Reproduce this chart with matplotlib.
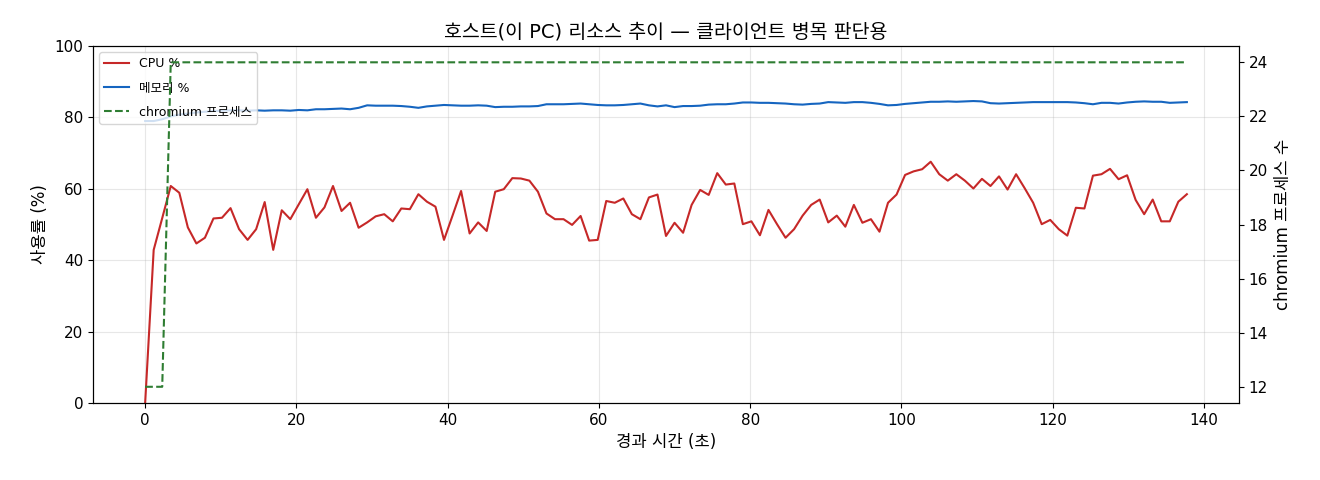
import matplotlib
matplotlib.use("Agg")
import matplotlib.pyplot as plt
import numpy as np

# Latin text in DejaVu (wide, like the original), Hangul falls back to Noto CJK
plt.rcParams['font.family'] = ['DejaVu Sans', 'Noto Sans CJK KR']
plt.rcParams['axes.unicode_minus'] = False

# sampling interval of the monitor (seconds)
sample_interval = 1.129

cpu_pct = [
    0.0, 42.9, 51.8, 60.8, 58.9, 49.2, 44.7, 46.3, 51.7, 51.9,
    54.6, 48.7, 45.7, 48.7, 56.3, 42.9, 54.0, 51.5, 55.7, 59.9,
    51.9, 54.8, 60.8, 53.8, 56.1, 49.1, 50.6, 52.3, 52.9, 50.9,
    54.5, 54.3, 58.5, 56.4, 55.0, 45.7, 52.5, 59.4, 47.5, 50.6,
    48.2, 59.2, 59.9, 63.0, 62.9, 62.3, 59.2, 53.1, 51.5, 51.5,
    49.9, 52.4, 45.5, 45.7, 56.6, 56.1, 57.3, 52.9, 51.5, 57.6,
    58.4, 46.8, 50.5, 47.7, 55.5, 59.7, 58.3, 64.4, 61.2, 61.5,
    50.1, 50.9, 47.0, 54.1, 50.1, 46.3, 48.7, 52.5, 55.5, 57.0,
    50.6, 52.5, 49.4, 55.5, 50.5, 51.5, 48.0, 56.1, 58.4, 63.9,
    64.9, 65.5, 67.6, 64.1, 62.3, 64.1, 62.3, 60.1, 62.8, 60.8,
    63.5, 59.8, 64.1, 60.2, 56.1, 50.1, 51.3, 48.7, 46.9, 54.7,
    54.5, 63.7, 64.1, 65.6, 62.7, 63.8, 56.9, 52.9, 57.0, 50.9,
    50.9, 56.4, 58.5,
]

mem_pct = [
    79.0, 79.0, 79.5, 80.3, 80.8, 81.1, 81.4, 81.6, 81.8, 81.9,
    82.0, 82.0, 81.9, 82.0, 81.9, 82.0, 82.0, 81.9, 82.1, 82.0,
    82.3, 82.3, 82.4, 82.5, 82.3, 82.7, 83.4, 83.3, 83.3, 83.3,
    83.2, 83.0, 82.7, 83.1, 83.3, 83.5, 83.4, 83.3, 83.3, 83.4,
    83.3, 82.9, 83.0, 83.0, 83.1, 83.1, 83.2, 83.7, 83.7, 83.7,
    83.8, 83.9, 83.7, 83.5, 83.4, 83.4, 83.5, 83.7, 83.9, 83.4,
    83.1, 83.4, 82.9, 83.2, 83.2, 83.3, 83.6, 83.7, 83.7, 83.9,
    84.2, 84.2, 84.1, 84.1, 84.0, 83.9, 83.7, 83.6, 83.8, 83.9,
    84.3, 84.2, 84.1, 84.3, 84.3, 84.1, 83.8, 83.4, 83.5, 83.8,
    84.0, 84.2, 84.4, 84.4, 84.5, 84.4, 84.5, 84.6, 84.5, 84.0,
    83.9, 84.0, 84.1, 84.2, 84.3, 84.3, 84.3, 84.3, 84.3, 84.2,
    84.0, 83.7, 84.1, 84.1, 83.9, 84.2, 84.4, 84.5, 84.4, 84.4,
    84.1, 84.2, 84.3,
]

chromium_procs = [12, 12, 12] + [24] * 120

elapsed = np.arange(len(cpu_pct)) * sample_interval

fig, ax1 = plt.subplots(figsize=(13.2, 4.8), dpi=100)
fig.subplots_adjust(left=0.0705, right=0.9386, top=0.904, bottom=0.1604)

l1, = ax1.plot(elapsed, cpu_pct, color='#c62828', lw=1.5, label='CPU %')
l2, = ax1.plot(elapsed, mem_pct, color='#1565c0', lw=1.5, label='메모리 %')
ax1.set_ylim(0, 100)
ax1.set_xlabel('경과 시간 (초)', fontsize=12)
ax1.set_ylabel('사용률 (%)', fontsize=12)
ax1.grid(True, alpha=0.3)
ax1.tick_params(labelsize=11)

ax2 = ax1.twinx()
l3, = ax2.plot(elapsed, chromium_procs, color='#2e7d32', lw=1.5, ls='--',
               label='chromium 프로세스')
ax2.set_ylabel('chromium 프로세스 수', fontsize=12)
ax2.tick_params(labelsize=11)

ax1.legend(handles=[l1, l2, l3], loc='upper left', fontsize=9, labelspacing=0.9)
ax1.set_title('호스트(이 PC) 리소스 추이 — 클라이언트 병목 판단용', fontsize=14)

fig.savefig('out.png', dpi=100)
